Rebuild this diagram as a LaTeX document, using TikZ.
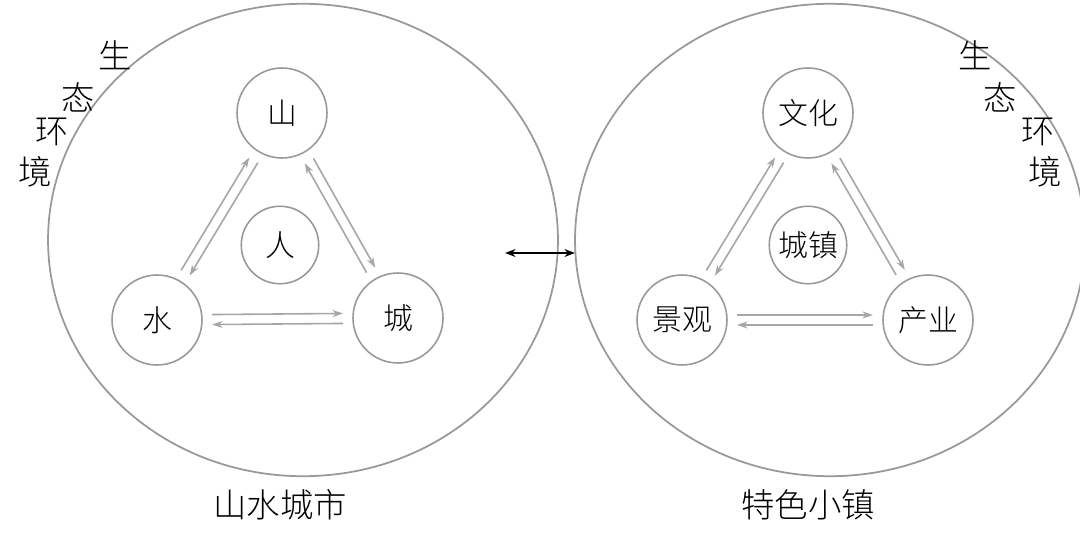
\documentclass[tikz,border=0pt]{standalone}
\usepackage{fontspec}
\newfontfamily\cjk{Noto Sans CJK SC Light}
\usetikzlibrary{calc,arrows.meta,shapes.geometric}

\tikzset{
  big/.style={draw=gray!80, line width=1pt, ellipse, minimum width=10.2cm, minimum height=9.45cm, inner sep=0pt},
  small/.style={draw=gray!80, line width=0.9pt, circle, minimum size=1.8cm, inner sep=0pt, font=\cjk\fontsize{17}{17}\selectfont},
  lbl/.style={font=\cjk\fontsize{19}{19}\selectfont, inner sep=0pt},
  arr/.style={draw=gray!70, line width=0.9pt, -{Stealth[length=6pt,width=4pt]}, shorten <=1.1cm, shorten >=1.1cm}
}
% two parallel links between a pair of nodes
\newcommand{\twoway}[2]{%
  \draw[arr] ($(#1)!0.1cm!90:(#2)$) -- ($(#2)!0.1cm!-90:(#1)$);
  \draw[arr] ($(#2)!0.1cm!90:(#1)$) -- ($(#1)!0.1cm!-90:(#2)$);
}

\begin{document}
\begin{tikzpicture}[x=0.02cm, y=-0.02cm]
    \useasboundingbox[fill=white] (0,0) rectangle (1080,534);

    % left big circle
    \node[big] (left) at (303,240) {};
    \node[small] (shan) at (282,113) {山};
    \node[small] (shui) at (157,320) {水};
    \node[small] (cheng) at (398,318) {城};
    \node[small, minimum size=1.55cm] (ren) at (280,245) {人};
    \twoway{shui}{shan}
    \twoway{shan}{cheng}
    \twoway{cheng}{shui}

    % right big circle
    \node[big] (right) at (830,240) {};
    \node[small] (wenhua) at (808,113) {文化};
    \node[small] (jingguan) at (682,320) {景观};
    \node[small] (chanye) at (928,320) {产业};
    \node[small, minimum size=1.55cm] (chengzhen) at (808,245) {城镇};
    \twoway{jingguan}{wenhua}
    \twoway{wenhua}{chanye}
    \twoway{chanye}{jingguan}

    % link between the two
    \coordinate (p) at (505,253);
    \coordinate (q) at (575,253);
    \draw[line width=1pt, {Stealth[length=6pt]}-{Stealth[length=6pt]}] (p) -- (q);

    % side labels
    \node[lbl] (l1) at (115,55) {生};
    \node[lbl] (l2) at (78,97) {态};
    \node[lbl] (l3) at (52,132) {环};
    \node[lbl] (l4) at (35,172) {境};
    \node[lbl] (r1) at (975,55) {生};
    \node[lbl] (r2) at (1000,97) {态};
    \node[lbl] (r3) at (1038,132) {环};
    \node[lbl] (r4) at (1045,172) {境};

    % titles
    \node[lbl] (tl) at (280,505) {山水城市};
    \node[lbl] (tr) at (808,505) {特色小镇};
\end{tikzpicture}
\end{document}
